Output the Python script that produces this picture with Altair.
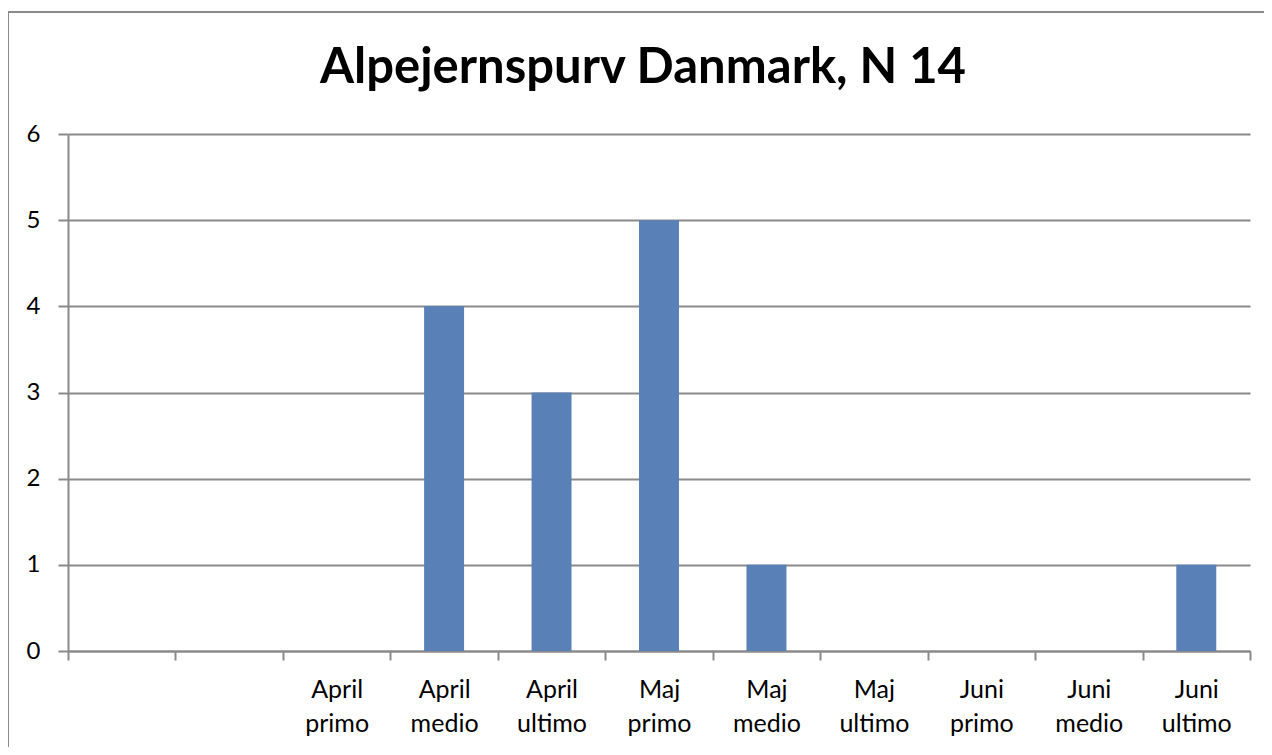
import altair as alt
import pandas as pd

# Data
categories = [" ", "  ", "April primo", "April medio", "April ultimo",
              "Maj primo", "Maj medio", "Maj ultimo",
              "Juni primo", "Juni medio", "Juni ultimo"]
counts = [0, 0, 0, 4, 3, 5, 1, 0, 0, 0, 1]

df = pd.DataFrame({"periode": categories, "antal": counts})

FONT = "Lato"
GRAY = "#8A8A8A"

bars = alt.Chart(df).mark_bar(
    color="#5A80B8",
    width=alt.RelativeBandSize(0.372),
).encode(
    x=alt.X(
        "periode:N",
        sort=categories,
        title=None,
        scale=alt.Scale(paddingInner=0, paddingOuter=0),
        axis=alt.Axis(
            labelAngle=0,
            labelExpr="split(datum.label, ' ')",
            labelLineHeight=34,
            labelFontSize=25,
            labelFont=FONT,
            labelColor="#000000",
            labelPadding=17,
            tickBand="extent",
            tickSize=9,
            tickWidth=2,
            tickColor=GRAY,
            domainColor=GRAY,
            domainWidth=2,
            grid=False,
        ),
    ),
    y=alt.Y(
        "antal:Q",
        title=None,
        scale=alt.Scale(domain=[0, 6], nice=False),
        axis=alt.Axis(
            values=[0, 1, 2, 3, 4, 5, 6],
            format="d",
            labelFontSize=24,
            labelFont=FONT,
            labelColor="#000000",
            labelPadding=18,
            tickSize=10,
            tickWidth=2,
            tickColor=GRAY,
            domainColor=GRAY,
            domainWidth=2,
            grid=True,
            gridColor=GRAY,
            gridWidth=2,
        ),
    ),
)

# outer chart frame (decoration, as in the reference)
frame_data = alt.Data(values=[{}])
frame_left = alt.Chart(frame_data).mark_rule(color=GRAY, strokeWidth=2).encode(
    x=alt.value(-60), y=alt.value(-122), y2=alt.value(700)
)
frame_top = alt.Chart(frame_data).mark_rule(color=GRAY, strokeWidth=2).encode(
    x=alt.value(-60), x2=alt.value(1300), y=alt.value(-122)
)

chart = alt.layer(frame_left, frame_top, bars).properties(
    width=1182,
    height=517,
    padding={"left": 60, "top": 126, "right": 14, "bottom": 96},
    autosize=alt.AutoSizeParams(type="none"),
    title=alt.TitleParams(
        "Alpejernspurv Danmark, N 14",
        font=FONT,
        fontSize=49,
        fontWeight="bold",
        color="#000000",
        anchor="middle",
        dx=-16,
        offset=38,
        dy=120,
    ),
).configure_view(stroke=None)

chart.save("out.html", embed_options={"renderer": "svg", "actions": False})
